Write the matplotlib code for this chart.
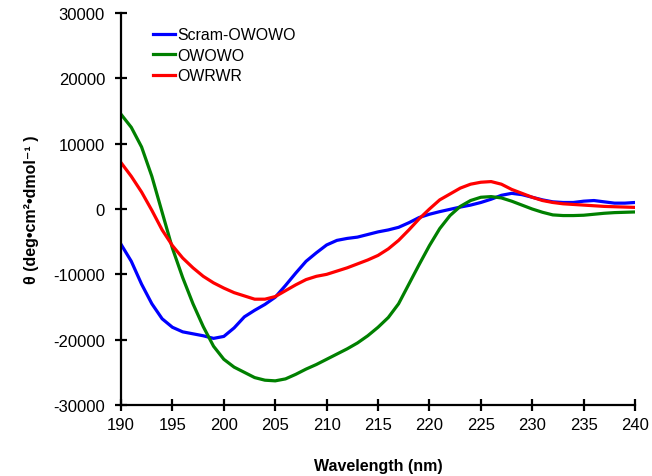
import matplotlib
matplotlib.use("Agg")
import matplotlib.pyplot as plt
import numpy as np

plt.rcParams["font.family"] = ["Liberation Sans", "DejaVu Sans"]
plt.rcParams["axes.unicode_minus"] = False

wavelength = np.arange(190, 241)

scram_owowo = [-5400, -8000, -11500, -14500, -16800, -18100, -18800, -19100, -19400, -19800,
               -19500, -18200, -16500, -15500, -14600, -13500, -11700, -9800, -8000, -6700,
               -5500, -4800, -4500, -4300, -3900, -3500, -3200, -2800, -2100, -1300,
               -800, -400, -50, 300, 600, 1000, 1500, 2100, 2400, 2200,
               1800, 1400, 1100, 1000, 1000, 1200, 1300, 1100, 900, 900, 1000]

owowo = [14500, 12500, 9500, 5000, -500, -6000, -10500, -14500, -18000, -21000,
         -23000, -24200, -25000, -25800, -26200, -26300, -26000, -25300, -24500, -23800,
         -23000, -22200, -21400, -20500, -19400, -18100, -16600, -14500, -11500, -8500,
         -5600, -3000, -1000, 400, 1300, 1800, 1900, 1700, 1200, 600,
         0, -500, -900, -1000, -1000, -950, -800, -650, -550, -500, -450]

owrwr = [7100, 5000, 2600, -200, -3200, -5600, -7500, -9000, -10300, -11300,
         -12100, -12800, -13300, -13800, -13800, -13400, -12500, -11600, -10800, -10300,
         -10000, -9500, -9000, -8400, -7800, -7100, -6100, -4800, -3200, -1500,
         0, 1400, 2300, 3200, 3800, 4100, 4200, 3800, 3000, 2400,
         1800, 1300, 1000, 800, 700, 600, 500, 400, 350, 300, 250]

fig = plt.figure(figsize=(6.52, 4.77), dpi=100)
ax = fig.add_axes([0.1856, 0.1488, 0.7884, 0.8218])

ax.plot(wavelength, scram_owowo, color="#0000ff", lw=2.3, label="Scram-OWOWO")
ax.plot(wavelength, owowo, color="#008000", lw=2.3, label="OWOWO")
ax.plot(wavelength, owrwr, color="#ff0000", lw=2.3, label="OWRWR")

ax.set_xlim(190, 240)
ax.set_ylim(-30000, 30000)
ax.set_xticks(np.arange(190, 241, 5))
ax.set_yticks(np.arange(-30000, 30001, 10000))
ax.spines["top"].set_visible(False)
ax.spines["right"].set_visible(False)
for s in ("left", "bottom"):
    ax.spines[s].set_linewidth(1.6)
ax.tick_params(direction="inout", length=9, width=1.6, labelsize=12)
ax.tick_params(axis="y", pad=7)
ax.tick_params(axis="x", pad=4)

ax.set_xlabel("Wavelength (nm)", fontsize=11.5, fontweight="bold", labelpad=19)
ax.set_ylabel("θ (deg•cm²•dmol⁻¹ )", fontsize=11.5, fontweight="bold", labelpad=10)

ax.legend(loc="upper left", bbox_to_anchor=(0.035, 1.0), frameon=False, fontsize=11.4,
          handlelength=1.4, handletextpad=0.1, labelspacing=0.35)

fig.savefig("out.png", dpi=100)
